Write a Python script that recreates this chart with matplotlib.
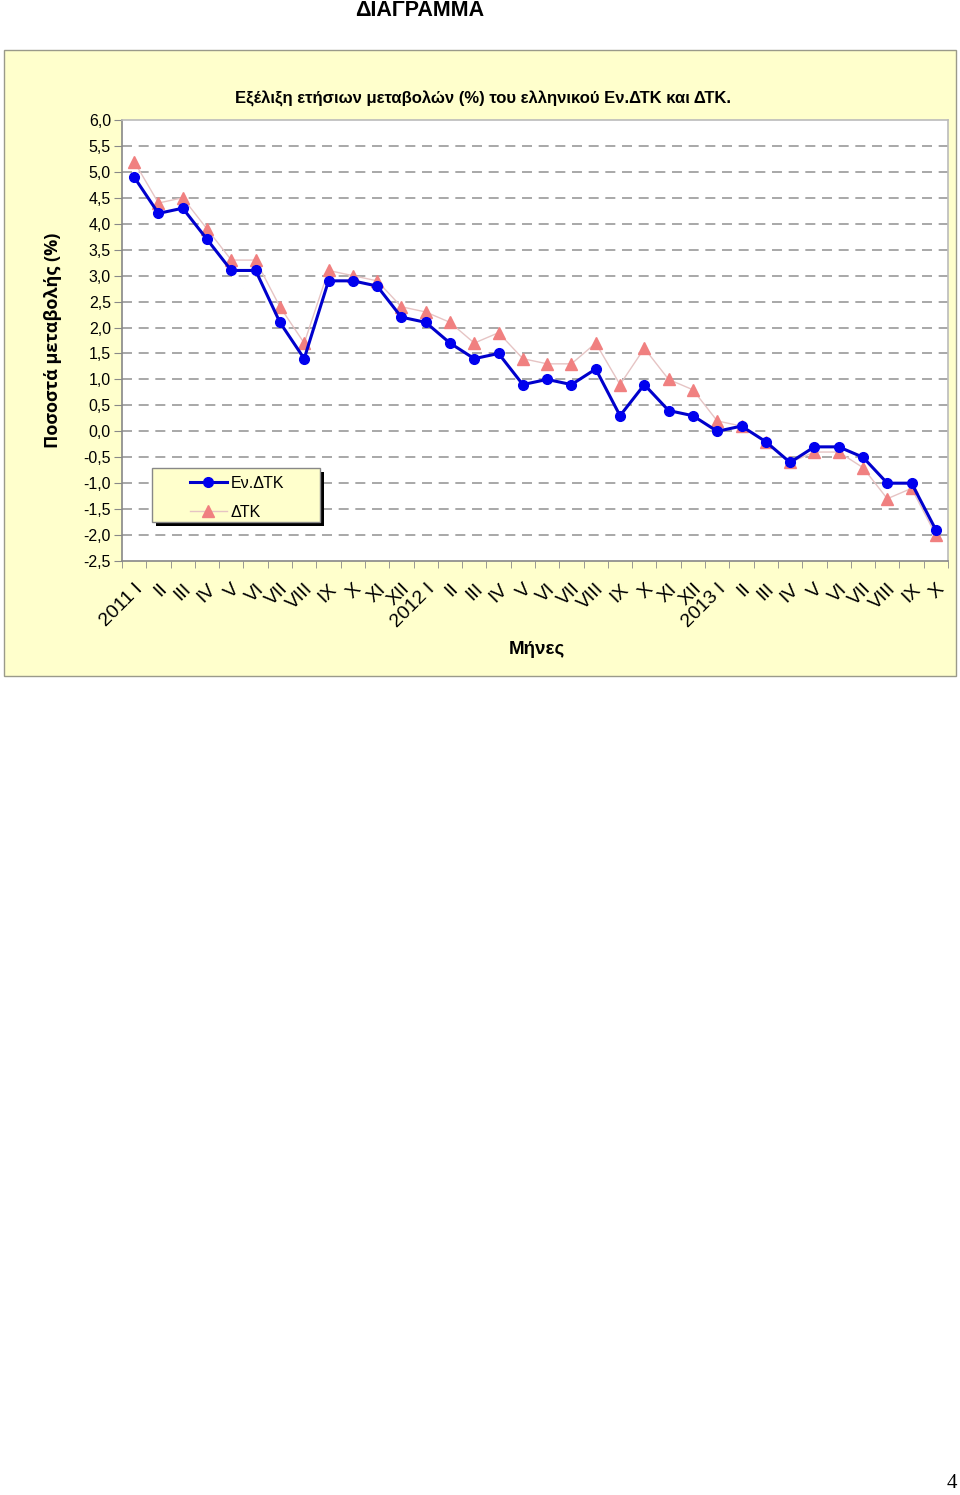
#!/usr/bin/env python3
"""Annual % change of the Greek HICP (Ev.DTK) and CPI (DTK), 2011-2013."""
import matplotlib
matplotlib.use("Agg")
import matplotlib.pyplot as plt
from matplotlib.patches import Rectangle
from matplotlib.ticker import FixedLocator, FuncFormatter
import numpy as np

months = ["2011 I", "II", "III", "IV", "V", "VI", "VII", "VIII", "IX", "X", "XI", "XII",
          "2012 I", "II", "III", "IV", "V", "VI", "VII", "VIII", "IX", "X", "XI", "XII",
          "2013 I", "II", "III", "IV", "V", "VI", "VII", "VIII", "IX", "X"]

hicp = [4.9, 4.2, 4.3, 3.7, 3.1, 3.1, 2.1, 1.4, 2.9, 2.9, 2.8, 2.2,
        2.1, 1.7, 1.4, 1.5, 0.9, 1.0, 0.9, 1.2, 0.3, 0.9, 0.4, 0.3,
        0.0, 0.1, -0.2, -0.6, -0.3, -0.3, -0.5, -1.0, -1.0, -1.9]

cpi = [5.2, 4.4, 4.5, 3.9, 3.3, 3.3, 2.4, 1.7, 3.1, 3.0, 2.9, 2.4,
       2.3, 2.1, 1.7, 1.9, 1.4, 1.3, 1.3, 1.7, 0.9, 1.6, 1.0, 0.8,
       0.2, 0.1, -0.2, -0.6, -0.4, -0.4, -0.7, -1.3, -1.1, -2.0]

yticks = np.arange(-2.5, 6.01, 0.5)

W, H = 960, 1495
plt.rcParams["font.family"] = ["Liberation Sans", "DejaVu Sans"]

fig = plt.figure(figsize=(W / 100, H / 100), dpi=100)
fig.patch.set_facecolor("white")


def fx(px):
    return px / W


def fy(py):
    return 1 - py / H


# yellow panel behind the chart
fig.patches.append(Rectangle((fx(4), fy(676)), fx(952), 626 / H, transform=fig.transFigure,
                             facecolor="#FFFFCC", edgecolor="#9A9A8A", lw=1.0, zorder=-5))

fig.text(fx(420), fy(10), "ΔΙΑΓΡΑΜΜΑ", ha="center", va="center", fontsize=15.5,
         fontweight="bold", family=["Liberation Sans", "DejaVu Sans"])
fig.text(fx(952), fy(1484), "4", ha="center", va="center", fontsize=15,
         family=["Liberation Serif", "DejaVu Serif"])

# plot area: x 122..948, y 120..561 px
AX_L, AX_T, AX_R, AX_B = 122, 120, 948, 561
AW, AH = AX_R - AX_L, AX_B - AX_T
ax = fig.add_axes([fx(AX_L), fy(AX_B), AW / W, AH / H])
ax.set_zorder(2)
ax.set_facecolor("white")
x = np.arange(len(months))

for y in yticks[1:-1]:
    ax.axhline(y, color="#999999", lw=1.2, ls=(0, (6, 4)), zorder=1)

ax.plot(x, cpi, color="#E6C4C4", lw=1.0, marker="^", ms=8, mfc="#F08080", mec="#F08080",
        label="ΔΤΚ", zorder=2)
ax.plot(x, hicp, color="#0000CC", lw=2.2, marker="o", ms=7, mfc="#0000EE", mec="#0000EE",
        label="Εν.ΔΤΚ", zorder=3)

ax.set_xlim(-0.5, len(months) - 0.5)
ax.set_ylim(-2.5, 6.0)
ax.yaxis.set_major_locator(FixedLocator(yticks))
ax.yaxis.set_major_formatter(FuncFormatter(lambda v, p: f"{v:.1f}".replace(".", ",")))
ax.tick_params(axis="y", direction="out", length=6, color="#888888", labelsize=11.5, pad=2)

ax.set_xticks(x)
ax.set_xticklabels(months, rotation=45, ha="right", va="top", rotation_mode="anchor",
                   fontsize=14)
ax.set_xticks(np.arange(-0.5, len(months), 1), minor=True)
ax.tick_params(axis="x", which="major", length=0, pad=14)
ax.tick_params(axis="x", which="minor", direction="out", length=5, color="#888888")

for s in ax.spines.values():
    s.set_color("#BBBBBB")
    s.set_linewidth(1.2)
ax.spines["left"].set_color("#888888")
ax.spines["bottom"].set_color("#888888")

ax.set_title("Εξέλιξη ετήσιων μεταβολών (%) του ελληνικού Εν.ΔΤΚ και ΔΤΚ.", fontsize=12,
             fontweight="bold", pad=12, x=0.437)
ax.set_xlabel("Μήνες", fontsize=13.5, fontweight="bold")
ax.xaxis.set_label_coords((537 - AX_L) / AW, -(641 - AX_B) / AH)
ax.set_ylabel("Ποσοστά μεταβολής (%)", fontsize=13, fontweight="bold",
              family=["Open Sans", "DejaVu Sans"])
ax.yaxis.set_label_coords(-(AX_L - 62) / AW, 0.5)

# legend frame with a solid black shadow, drawn by hand
lx0, ly0, lx1, ly1 = 152, 468, 320, 522
ax.add_patch(Rectangle(((lx0 + 4 - AX_L) / AW, (AX_B - ly1 - 4) / AH), (lx1 - lx0) / AW,
                       (ly1 - ly0) / AH, transform=ax.transAxes, facecolor="black",
                       edgecolor="none", zorder=5))
ax.add_patch(Rectangle(((lx0 - AX_L) / AW, (AX_B - ly1) / AH), (lx1 - lx0) / AW,
                       (ly1 - ly0) / AH, transform=ax.transAxes, facecolor="#FFFFCC",
                       edgecolor="#888888", lw=1.0, zorder=6))

h, l = ax.get_legend_handles_labels()
leg = ax.legend(h[::-1], l[::-1], loc="upper left",
                bbox_to_anchor=((190 - AX_L) / AW, (AX_B - 476) / AH),
                borderaxespad=0, borderpad=0, frameon=False, fontsize=11.5,
                handlelength=2.3, handletextpad=0.25, labelspacing=0.85)
leg.set_zorder(7)

fig.savefig("out.png", dpi=100, facecolor=fig.get_facecolor())
